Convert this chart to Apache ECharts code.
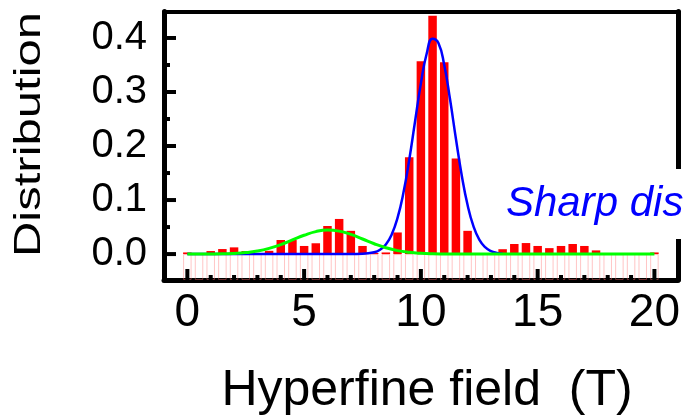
<!DOCTYPE html>
<html>
<head>
<meta charset="utf-8">
<script src="https://cdn.jsdelivr.net/npm/echarts@6/dist/echarts.min.js"></script>
<style>
  html, body { margin: 0; padding: 0; background: #fff; }
  #chart { width: 683px; height: 418px; }
</style>
</head>
<body>
<div id="chart"></div>
<script>
// Histogram bins of the hyperfine field (T), 0.5 T wide
const binCenters = [
  0, 0.5, 1, 1.5, 2, 2.5, 3, 3.5, 4, 4.5,
  5, 5.5, 6, 6.5, 7, 7.5, 8, 8.5, 9, 9.5,
  10, 10.5, 11, 11.5, 12, 12.5, 13, 13.5, 14, 14.5,
  15, 15.5, 16, 16.5, 17, 17.5, 18, 18.5, 19, 19.5, 20
];
// Probability in each bin
const distribution = [
  0.003, 0.002, 0.0056, 0.0093, 0.0124, 0.0056, 0.002, 0.006, 0.026, 0.026,
  0.015, 0.020, 0.052, 0.065, 0.043, 0.015, 0.002, 0.003, 0.040, 0.179,
  0.357, 0.441, 0.355, 0.177, 0.043, 0.002, 0.002, 0.009, 0.0186, 0.0204,
  0.015, 0.011, 0.015, 0.0186, 0.015, 0.0068, 0.002, 0.002, 0.002, 0.002, 0.003
];
// Sharp component (blue curve): [field, distribution]
const sharpFit = [
  [0, 0], [2, 0], [4, 0], [6, 0], [7, 0], [7.5, 0.0004], [8, 0.0033], [8.25, 0.008],
  [8.5, 0.0178], [8.75, 0.0362], [9, 0.0669], [9.25, 0.1129], [9.5, 0.1742],
  [9.75, 0.2455], [10, 0.3159], [10.25, 0.3713], [10.5, 0.3986], [10.75, 0.3907],
  [11, 0.3498], [11.25, 0.286], [11.5, 0.2135], [11.75, 0.1456], [12, 0.0907],
  [12.25, 0.0516], [12.5, 0.0268], [12.75, 0.0127], [13, 0.0055], [13.25, 0.0022],
  [13.5, 0.0008]
];
// Broad component (green curve): [field, distribution]
const broadFit = [
  [0, 0], [1, 0.0002], [1.5, 0.0004], [2, 0.0012], [2.5, 0.0027], [3, 0.0056],
  [3.5, 0.0105], [4, 0.0175], [4.5, 0.0261], [5, 0.0348], [5.5, 0.0416], [6, 0.0445],
  [6.5, 0.0425], [7, 0.0364], [7.5, 0.0279], [8, 0.0191], [8.5, 0.0117], [9, 0.0064],
  [9.5, 0.0032], [10, 0.0014], [10.5, 0.0005], [11, 0.0002], [12, 0], [14, 0],
  [16, 0], [18, 0], [20, 0]
];
// Tick positions
const xMajorTicks = [0, 5, 10, 15, 20];
const xMinorTicks = [1, 2, 3, 4, 6, 7, 8, 9, 11, 12, 13, 14, 16, 17, 18, 19];
const yMajorTicks = [0, 0.1, 0.2, 0.3, 0.4];
const yMinorTicks = [0.05, 0.15, 0.25, 0.35];

const X_MIN = -1, X_MAX = 21;
const Y_MIN = -0.048, Y_MAX = 0.449;
const FONT = "'Liberation Sans', Arial, Helvetica, sans-serif";

const chart = echarts.init(document.getElementById('chart'), null, { renderer: 'canvas' });

const hidden = { show: false };

chart.setOption({
  animation: false,
  backgroundColor: '#fff',
  grid: { left: 164, right: 4, top: 11.5, bottom: 138, containLabel: false },
  xAxis: [
    {
      type: 'value', min: X_MIN, max: X_MAX, position: 'bottom',
      axisLine: { show: true, onZero: false, lineStyle: { color: '#000', width: 5 } },
      axisTick: hidden,
      axisLabel: { show: true, customValues: xMajorTicks, fontSize: 46, fontFamily: FONT,
                   color: '#000', margin: 10, backgroundColor: 'transparent' },
      splitLine: hidden
    },
    {
      type: 'value', min: X_MIN, max: X_MAX, position: 'top',
      axisLine: { show: true, onZero: false, lineStyle: { color: '#000', width: 4 } },
      axisTick: hidden, axisLabel: hidden, splitLine: hidden
    }
  ],
  yAxis: [
    {
      type: 'value', min: Y_MIN, max: Y_MAX, position: 'left',
      axisLine: { show: true, onZero: false, lineStyle: { color: '#000', width: 5 } },
      axisTick: hidden,
      axisLabel: { show: true, customValues: yMajorTicks, fontSize: 40, fontFamily: FONT,
                   color: '#000', margin: 17, backgroundColor: 'transparent',
                   formatter: v => v.toFixed(1) },
      splitLine: hidden
    },
    {
      type: 'value', min: Y_MIN, max: Y_MAX, position: 'right',
      axisLine: { show: true, onZero: false, lineStyle: { color: '#000', width: 5 } },
      axisTick: hidden, axisLabel: hidden, splitLine: hidden
    }
  ],
  series: [
    {
      // pale bin outlines below the zero line
      name: 'bins', type: 'bar', xAxisIndex: 0, yAxisIndex: 0,
      barWidth: 8.5, z: 1, silent: true,
      itemStyle: { color: 'rgba(255,255,255,0)', borderColor: 'rgba(255,110,110,0.4)', borderWidth: 1 },
      data: binCenters.map(x => [x, Y_MIN])
    },
    {
      name: 'Distribution', type: 'bar', xAxisIndex: 0, yAxisIndex: 0,
      barWidth: 8.5, barGap: '-100%', z: 2,
      itemStyle: { color: '#ff0000' },
      data: binCenters.map((x, i) => [x, distribution[i]])
    },
    {
      name: 'Sharp', type: 'line', xAxisIndex: 0, yAxisIndex: 0,
      smooth: true, symbol: 'none', z: 3,
      lineStyle: { color: '#0000ff', width: 2.5 },
      data: sharpFit
    },
    {
      name: 'Broad', type: 'line', xAxisIndex: 0, yAxisIndex: 0,
      smooth: true, symbol: 'none', z: 4,
      lineStyle: { color: '#00ff00', width: 3 },
      data: broadFit
    }
  ]
});

// inward tick marks, positioned through the axis scales
function tickLines(values, dir, len) {
  return values.map(v => {
    const p = dir === 'x'
      ? chart.convertToPixel({ xAxisIndex: 0, yAxisIndex: 0 }, [v, Y_MIN])
      : chart.convertToPixel({ xAxisIndex: 0, yAxisIndex: 0 }, [X_MIN, v]);
    const shape = dir === 'x'
      ? { x1: p[0], y1: p[1], x2: p[0], y2: p[1] - len }
      : { x1: p[0], y1: p[1], x2: p[0] + len, y2: p[1] };
    return { type: 'line', zlevel: 1, z: 50, silent: true, shape: shape,
             style: { stroke: '#000', lineWidth: 4 } };
  });
}

chart.setOption({
  graphic: [
    ...tickLines(xMajorTicks, 'x', 11),
    ...tickLines(xMinorTicks, 'x', 5),
    ...tickLines(yMajorTicks, 'y', 12),
    ...tickLines(yMinorTicks, 'y', 6),
    {
      type: 'text', x: 30, y: 134.5, rotation: Math.PI / 2, scaleY: 0.76,
      style: { text: 'Distribution', font: '49px ' + FONT, fill: '#000',
               align: 'center', verticalAlign: 'middle' }
    },
    {
      type: 'text', x: 427, y: 391,
      style: { text: 'Hyperfine field  (T)', font: '50px ' + FONT, fill: '#000',
               align: 'center', verticalAlign: 'middle' }
    },
    {
      type: 'text', x: 504, y: 204, z: 100,
      style: { text: 'Sharp dis', font: 'italic 42px ' + FONT, fill: '#0000ff',
               align: 'left', verticalAlign: 'middle',
               backgroundColor: '#fff', padding: [13, 12, 15, 2] }
    }
  ]
});
</script>
</body>
</html>
